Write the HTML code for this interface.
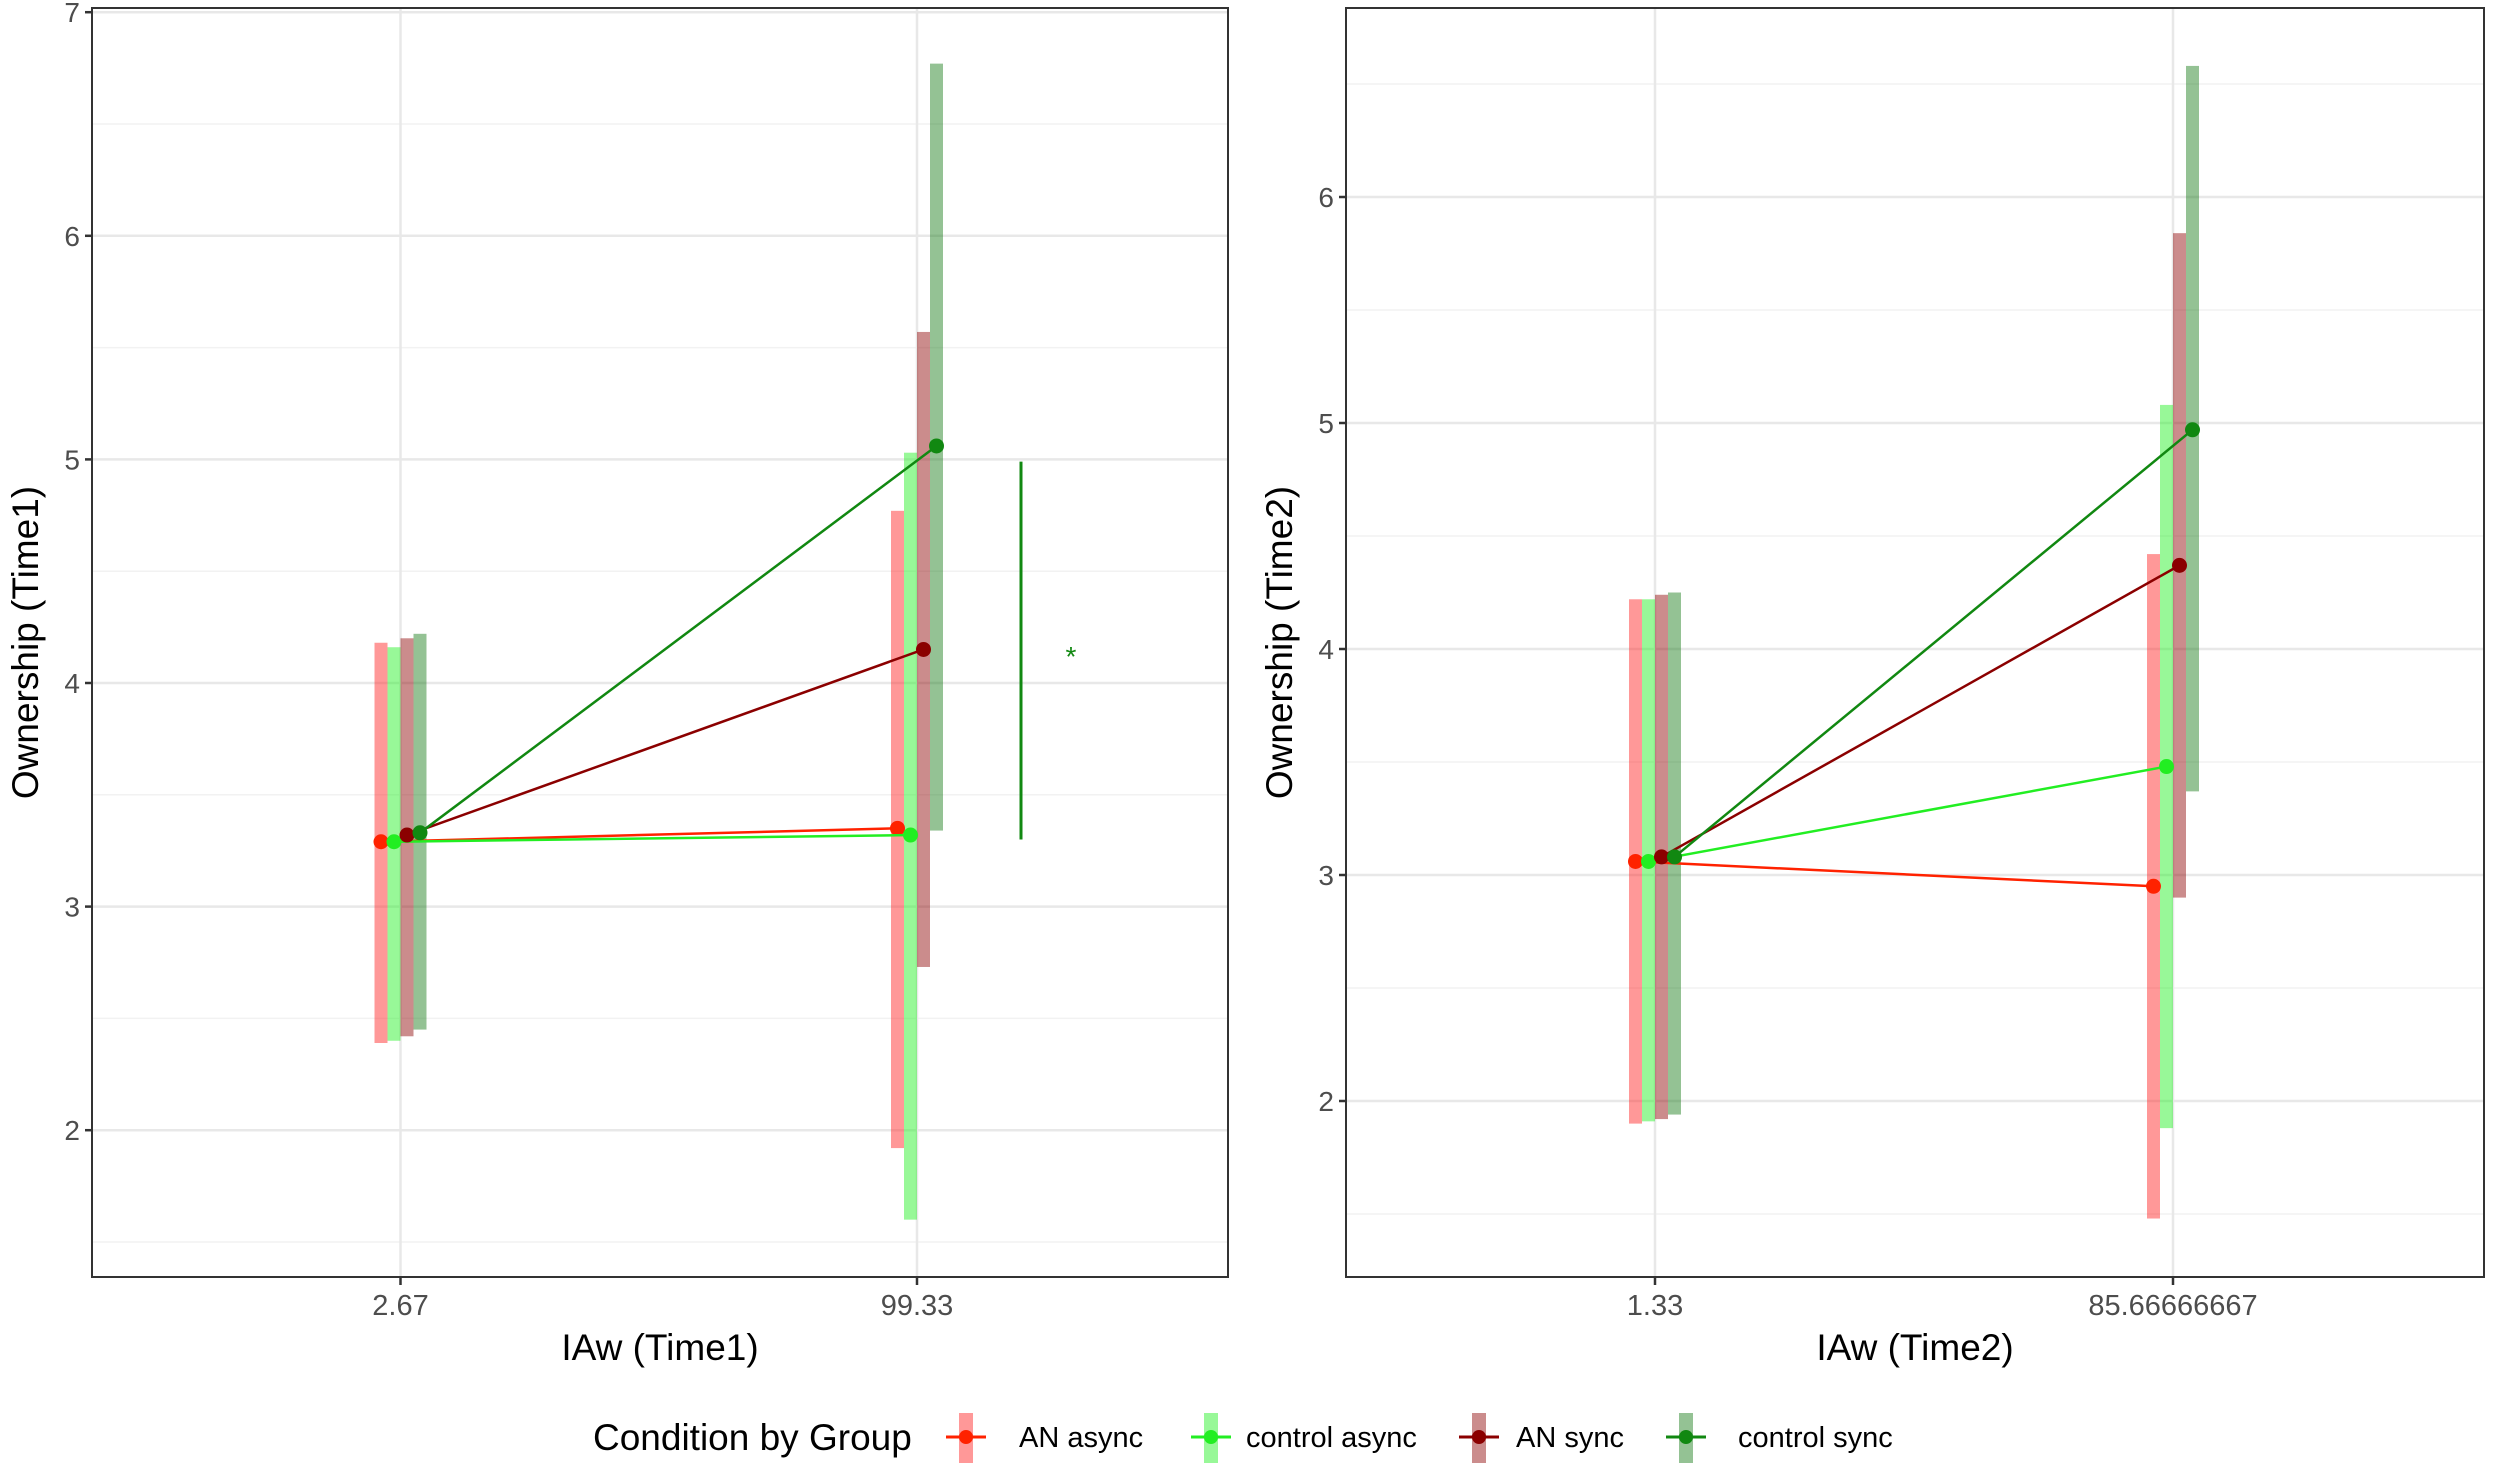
<!DOCTYPE html>
<html><head><meta charset="utf-8">
<style>
html,body{margin:0;padding:0;background:#fff;}
svg{display:block;font-family:"Liberation Sans",Arial,sans-serif;}
</style></head>
<body>
<svg id="chart" width="2500" height="1478" viewBox="0 0 2500 1478" xmlns="http://www.w3.org/2000/svg"></svg>
<script>
// ---- data ----
const groups = ["AN async","control async","AN sync","control sync"];
const xLabels1 = ["2.67","99.33"];
const xLabels2 = ["1.33","85.66666667"];
const yTicks1 = [2,3,4,5,6,7];
const yTicks2 = [2,3,4,5,6];
// panel 1 (Time1): [x1, x2] per group
const mean1 = [[3.29,3.35],[3.29,3.32],[3.32,4.15],[3.33,5.06]];
const lo1   = [[2.39,1.92],[2.40,1.60],[2.42,2.73],[2.45,3.34]];
const hi1   = [[4.18,4.77],[4.16,5.03],[4.20,5.57],[4.22,6.77]];
// panel 2 (Time2)
const mean2 = [[3.06,2.95],[3.06,3.48],[3.08,4.37],[3.08,4.97]];
const lo2   = [[1.90,1.48],[1.91,1.88],[1.92,2.90],[1.94,3.37]];
const hi2   = [[4.22,4.42],[4.22,5.08],[4.24,5.84],[4.25,6.58]];
const sigRange = [3.30,4.99];
const sigStarY = 4.13;

const lineCol = ["#ff2200","#22ee22","#8b0000","#118811"];
const barCol  = ["rgba(255,40,40,0.48)","rgba(40,240,40,0.48)","rgba(139,0,0,0.45)","rgba(17,120,17,0.45)"];
const offsets = [-19.5,-6.5,6.5,19.5];
const NS="http://www.w3.org/2000/svg";
const svg=document.getElementById('chart');
function el(tag,attrs,parent){const e=document.createElementNS(NS,tag);for(const k in attrs)e.setAttribute(k,attrs[k]);(parent||svg).appendChild(e);return e;}

function panel(p){
  const g=el('g',{});
  
  
  const y=v=>p.yRef - (v-p.yRefVal)*p.unit;
  const xc=[p.x1,p.x2];
  for(let v=Math.ceil(p.yMin*2)/2; v<=p.yMax; v+=0.5){
    if(Math.abs(v-Math.round(v))<1e-6) continue;
    const l=el('line',{x1:p.left,x2:p.right,y1:y(v),y2:y(v),stroke:'#f2f2f2','stroke-width':1.5},g);
    
    
  }
  p.yTicks.forEach(v=>{
    const l=el('line',{x1:p.left,x2:p.right,y1:y(v),y2:y(v),stroke:'#e8e8e8','stroke-width':2.5},g);
    
    
    const t=el('text',{x:p.left-12,y:y(v)+10,'text-anchor':'end','font-size':28,fill:'#4d4d4d'},g);
    t.textContent=v;
    
    
    el('line',{x1:p.left-7,x2:p.left,y1:y(v),y2:y(v),stroke:'#333','stroke-width':2.5},g);
  });
  xc.forEach((x,i)=>{
    const l=el('line',{x1:x,x2:x,y1:p.top,y2:p.bottom,stroke:'#e8e8e8','stroke-width':2.5},g);
    
    
    el('line',{x1:x,x2:x,y1:p.bottom,y2:p.bottom+8,stroke:'#333','stroke-width':2.5},g);
    const t=el('text',{x:x,y:p.bottom+38,'text-anchor':'middle','font-size':29,fill:'#4d4d4d'},g);
    t.textContent=p.xLabels[i];
    
    
  });
  groups.forEach((gname,k)=>{
    for(let i=0;i<2;i++){
      const cx=xc[i]+offsets[k];
      const r=el('rect',{x:cx-6.5,width:13,y:y(p.hi[k][i]),height:y(p.lo[k][i])-y(p.hi[k][i]),fill:barCol[k]},g);
      
      
    }
  });
  groups.forEach((gname,k)=>{
    const l=el('line',{x1:xc[0]+offsets[k],y1:y(p.mean[k][0]),x2:xc[1]+offsets[k],y2:y(p.mean[k][1]),stroke:lineCol[k],'stroke-width':2.5},g);
    
    
    for(let i=0;i<2;i++){
      const c=el('circle',{cx:xc[i]+offsets[k],cy:y(p.mean[k][i]),r:7.5,fill:lineCol[k]},g);
      
      
    }
  });
  if(p.sig){
    const s=el('line',{x1:p.sigX,x2:p.sigX,y1:y(sigRange[0]),y2:y(sigRange[1]),stroke:'#118811','stroke-width':3},g);
    
    
    const st=el('text',{x:p.sigX+50,y:y(sigStarY)+12,'text-anchor':'middle','font-size':28,fill:'#118811'},g);
    st.textContent='*';
    
    
  }
  const b=el('rect',{x:p.left,y:p.top,width:p.right-p.left,height:p.bottom-p.top,fill:'none',stroke:'#333','stroke-width':2},g);
  
  
  const xt=el('text',{x:(p.left+p.right)/2,y:1360,'text-anchor':'middle','font-size':37,fill:'#000'},g);
  xt.textContent=p.xTitle;
  
  
  const cy=(p.top+p.bottom)/2;
  const yt=el('text',{x:p.yTitleX,y:cy,'text-anchor':'middle','font-size':37,fill:'#000',transform:`rotate(-90 ${p.yTitleX} ${cy})`},g);
  yt.textContent=p.yTitle;
  
  
}

panel({name:'panel-time1',left:92,right:1228,top:8,bottom:1277,x1:400.5,x2:917,yRef:683,yRefVal:4,unit:223.6,yMin:1.36,yMax:7.03,
  yTicks:yTicks1,xLabels:xLabels1,mean:mean1,lo:lo1,hi:hi1,sig:true,sigX:1021,xTitle:'IAw (Time1)',yTitle:'Ownership (Time1)',yTitleX:38});
panel({name:'panel-time2',left:1346,right:2484,top:8,bottom:1277,x1:1655,x2:2173,yRef:875,yRefVal:3,unit:226,yMin:1.23,yMax:6.82,
  yTicks:yTicks2,xLabels:xLabels2,mean:mean2,lo:lo2,hi:hi2,sig:false,xTitle:'IAw (Time2)',yTitle:'Ownership (Time2)',yTitleX:1292});

// legend
const legKeyX=[966,1211,1479,1686];
const legTextX=[1019,1246,1516,1738];
const lg=el('g',{});


const lt=el('text',{x:593,y:1450,'font-size':37,fill:'#000'},lg);
lt.textContent='Condition by Group';


groups.forEach((gname,k)=>{
  const e=el('g',{},lg);
  
  
  const cx=legKeyX[k];
  el('rect',{x:cx-7,y:1413,width:14,height:50,fill:barCol[k]},e);
  el('line',{x1:cx-20,x2:cx+20,y1:1437,y2:1437,stroke:lineCol[k],'stroke-width':3},e);
  el('circle',{cx:cx,cy:1437,r:7,fill:lineCol[k]},e);
  const t=el('text',{x:legTextX[k],y:1447,'font-size':29,fill:'#000'},e);
  t.textContent=gname;
});
</script>
</body></html>
